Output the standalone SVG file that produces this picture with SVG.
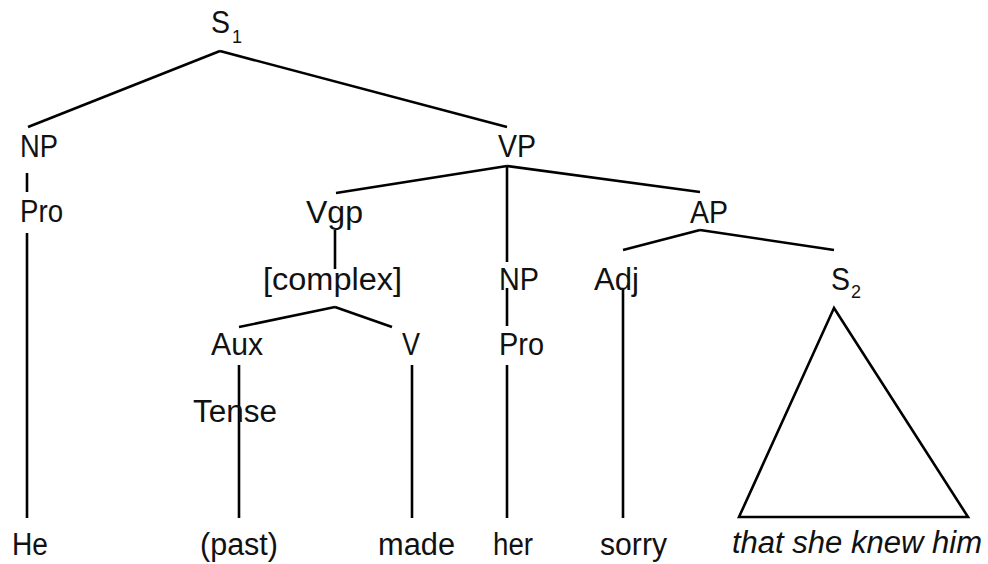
<svg xmlns="http://www.w3.org/2000/svg" width="988" height="564" viewBox="0 0 988 564">
<style>
text{font-family:"Liberation Sans",Arial,sans-serif;font-size:31px;fill:#111}
.sub{font-size:18px}
.it{font-style:italic}
#connectors line,#connectors polygon{stroke:#000;stroke-width:2.6;fill:none;stroke-linecap:butt}
</style>
<rect width="988" height="564" fill="#fff"/>
<g id="connectors">
<line x1="220" y1="51" x2="28" y2="127"/>
<line x1="220" y1="51" x2="507" y2="127"/>
<line x1="27" y1="173" x2="27" y2="192"/>
<line x1="27" y1="233" x2="27" y2="518"/>
<line x1="507" y1="166" x2="336" y2="193"/>
<line x1="507" y1="166" x2="700" y2="192"/>
<line x1="507" y1="166" x2="507" y2="262"/>
<line x1="507" y1="288" x2="507" y2="326"/>
<line x1="507" y1="365" x2="507" y2="518"/>
<line x1="335" y1="230" x2="335" y2="269"/>
<line x1="335" y1="307" x2="239" y2="327"/>
<line x1="335" y1="307" x2="392" y2="327"/>
<line x1="239" y1="365" x2="239" y2="518"/>
<line x1="412" y1="365" x2="412" y2="518"/>
<line x1="700" y1="230" x2="623" y2="250"/>
<line x1="700" y1="230" x2="834" y2="250"/>
<line x1="623" y1="288" x2="623" y2="518"/>
<polygon points="834,308 739,517 968,517" stroke-linejoin="miter"/>
</g>
<g id="S1"><text x="211" y="33" textLength="19" lengthAdjust="spacingAndGlyphs">S</text><text class="sub" x="232" y="43">1</text></g>
<g id="NP1"><text x="20" y="157" textLength="38" lengthAdjust="spacingAndGlyphs">NP</text></g>
<g id="Pro1"><text x="20" y="222" textLength="43" lengthAdjust="spacingAndGlyphs">Pro</text></g>
<g id="VP"><text x="498" y="157" textLength="38" lengthAdjust="spacingAndGlyphs">VP</text></g>
<g id="Vgp"><text x="306" y="223" textLength="57" lengthAdjust="spacingAndGlyphs">Vgp</text></g>
<g id="AP"><text x="690" y="223" textLength="38" lengthAdjust="spacingAndGlyphs">AP</text></g>
<g id="complex"><text x="263" y="290" textLength="139" lengthAdjust="spacingAndGlyphs">[complex]</text></g>
<g id="NP2"><text x="499" y="290" textLength="40" lengthAdjust="spacingAndGlyphs">NP</text></g>
<g id="Adj"><text x="594" y="290" textLength="45" lengthAdjust="spacingAndGlyphs">Adj</text></g>
<g id="S2"><text x="831" y="290" textLength="19" lengthAdjust="spacingAndGlyphs">S</text><text class="sub" x="851" y="298">2</text></g>
<g id="Aux"><text x="211" y="355" textLength="52" lengthAdjust="spacingAndGlyphs">Aux</text></g>
<g id="V"><text x="402" y="355" textLength="18" lengthAdjust="spacingAndGlyphs">V</text></g>
<g id="Pro2"><text x="499" y="355" textLength="45" lengthAdjust="spacingAndGlyphs">Pro</text></g>
<g id="Tense"><text x="193" y="422" textLength="84" lengthAdjust="spacingAndGlyphs">Tense</text></g>
<g id="He"><text x="12" y="555" textLength="36" lengthAdjust="spacingAndGlyphs">He</text></g>
<g id="past"><text x="200" y="555" textLength="78" lengthAdjust="spacingAndGlyphs">(past)</text></g>
<g id="made"><text x="378" y="555" textLength="77" lengthAdjust="spacingAndGlyphs">made</text></g>
<g id="her"><text x="493" y="555" textLength="40" lengthAdjust="spacingAndGlyphs">her</text></g>
<g id="sorry"><text x="600" y="555" textLength="67" lengthAdjust="spacingAndGlyphs">sorry</text></g>
<g id="clause"><text class="it" x="732" y="553" textLength="250" lengthAdjust="spacingAndGlyphs">that she knew him</text></g>
</svg>
